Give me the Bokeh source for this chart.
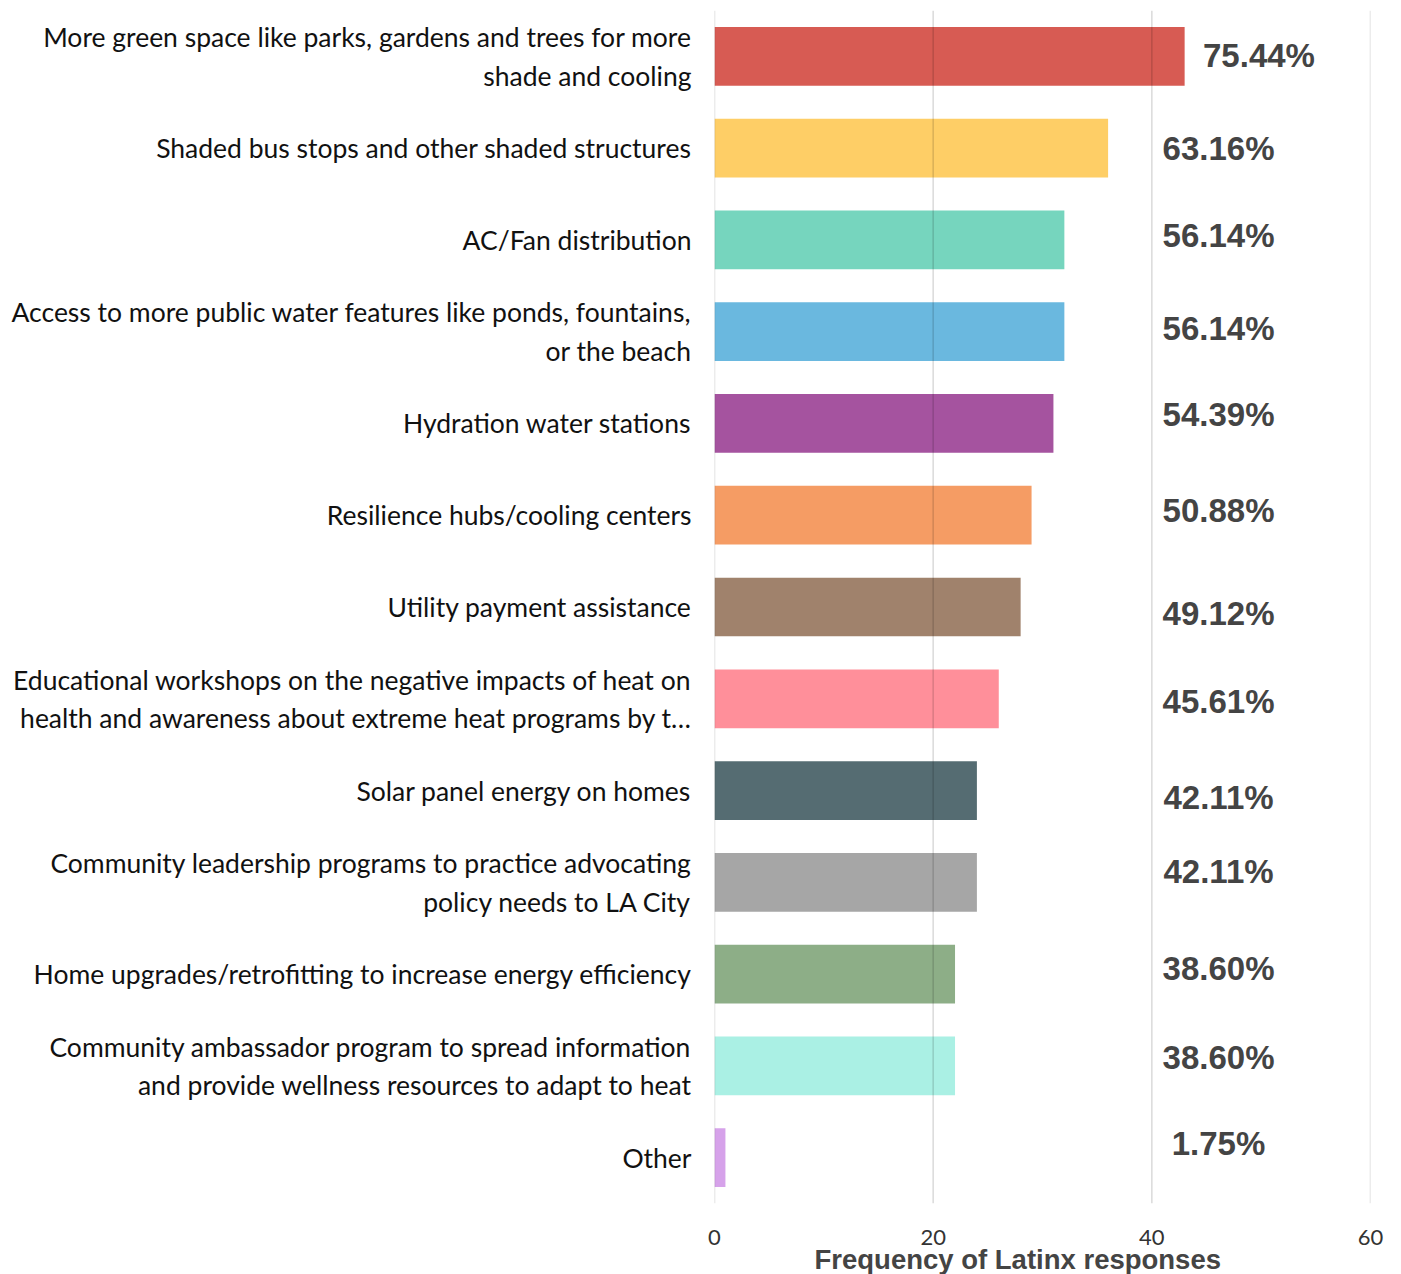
from bokeh.plotting import figure
from bokeh.models import ColumnDataSource, FactorRange, FixedTicker, Span, Title
from bokeh.core.properties import value
from bokeh.embed import file_html
from bokeh.resources import INLINE

categories = [
    "More green space like parks, gardens and trees for more\nshade and cooling",
    "Shaded bus stops and other shaded structures",
    "AC/Fan distribution",
    "Access to more public water features like ponds, fountains,\nor the beach",
    "Hydration water stations",
    "Resilience hubs/cooling centers",
    "Utility payment assistance",
    "Educational workshops on the negative impacts of heat on\nhealth and awareness about extreme heat programs by t\u2026",
    "Solar panel energy on homes",
    "Community leadership programs to practice advocating\npolicy needs to LA City",
    "Home upgrades/retrofitting to increase energy efficiency",
    "Community ambassador program to spread information\nand provide wellness resources to adapt to heat",
    "Other",
]
counts = [43, 36, 32, 32, 31, 29, 28, 26, 24, 24, 22, 22, 1]
percent_labels = ["75.44%", "63.16%", "56.14%", "56.14%", "54.39%", "50.88%",
                  "49.12%", "45.61%", "42.11%", "42.11%", "38.60%", "38.60%", "1.75%"]
bar_colors = ["#D75B53", "#FECE66", "#76D5BE", "#6AB8DF", "#A5539F", "#F59C64",
              "#A0826C", "#FF8F9A", "#556C72", "#A6A6A6", "#8DAE87", "#AAF0E4", "#D6A2EA"]
x_ticks = [0, 20, 40, 60]
x_title = "Frequency of Latinx responses"
# small vertical nudges (screen px) of the percentage labels, as seen in the reference
label_nudge = [-1, 0, -4, -3, -9, -5, 6, 3, 7, -11, -6, -8, -14]

label_x = [max(c + 6.8, 46.1) for c in counts]

src = ColumnDataSource(dict(cat=categories, cnt=counts, col=bar_colors,
                            lab=percent_labels, lx=label_x, dy=label_nudge))

p = figure(width=1396, height=1274, output_backend="svg", toolbar_location=None,
           y_range=FactorRange(*reversed(categories)), x_range=(0, 60),
           min_border_left=714, min_border_right=26, min_border_top=10,
           min_border_bottom=71)
p.y_range.range_padding = 0
p.outline_line_color = None

p.hbar(y="cat", right="cnt", left=0, height=0.64, color="col", line_color=None, source=src)
p.text(x="lx", y="cat", text="lab", y_offset="dy", source=src,
       text_font=value("Liberation Sans"), text_font_style="bold",
       text_font_size="33px", text_color="#444444",
       text_align="center", text_baseline="middle")

p.xgrid.grid_line_color = None
p.ygrid.grid_line_color = None
for t in x_ticks:
    p.add_layout(Span(location=t, dimension="height", line_color="black",
                      line_alpha=0.15, line_width=1.5, level="overlay"))

p.xaxis.ticker = FixedTicker(ticks=x_ticks)
p.xaxis.axis_line_color = None
p.xaxis.major_tick_line_color = None
p.xaxis.minor_tick_line_color = None
p.xaxis.major_label_standoff = 20
p.xaxis.major_label_text_font = "Lato"
p.xaxis.major_label_text_font_size = "22px"
p.xaxis.major_label_text_color = "#333333"

p.add_layout(Title(text=x_title, align="left", offset=100, standoff=-11,
                   text_font="Liberation Sans", text_font_style="bold",
                   text_font_size="27.5px", text_color="#444444"), "below")

p.yaxis.axis_line_color = None
p.yaxis.major_tick_line_color = None
p.yaxis.minor_tick_line_color = None
p.yaxis.major_label_standoff = 17
p.yaxis.major_label_text_font = "Lato"
p.yaxis.major_label_text_font_size = "26.5px"
p.yaxis.major_label_text_color = "#111111"

open("out.html", "w").write(file_html(p, INLINE))
